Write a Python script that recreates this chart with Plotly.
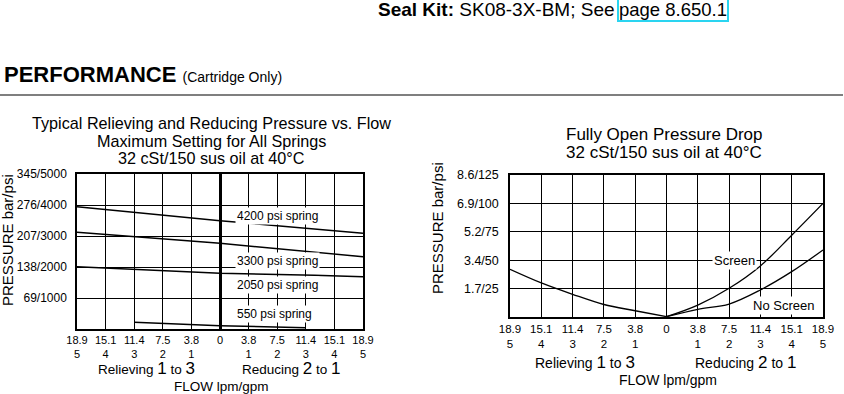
import plotly.graph_objects as go

W, H = 844, 394
FONT = "Liberation Sans, Arial, Helvetica, sans-serif"

# ---------------- data ----------------
gpm_ticks = [-5, -4, -3, -2, -1, 0, 1, 2, 3, 4, 5]
x_ticktext = ["18.9<br>5", "15.1<br>4", "11.4<br>3", "7.5<br>2", "3.8<br>1", "0",
              "3.8<br>1", "7.5<br>2", "11.4<br>3", "15.1<br>4", "18.9<br>5"]

left_y_vals = [1000, 2000, 3000, 4000, 5000]
left_y_text = ["69/1000", "138/2000", "207/3000", "276/4000", "345/5000"]

spring_4200_x = [-5, 0, 5]
spring_4200_p = [3945, 3494, 3087]
spring_3300_x = [-5, 0, 5]
spring_3300_p = [3119, 2763, 2333]
spring_2050_x = [-5, 0, 3.3, 5]
spring_2050_p = [2010, 1796, 1731, 1688]
spring_550_x = [-3, 0, 3]
spring_550_p = [215, 108, 43]

spring_labels = ["4200 psi spring", "3300 psi spring", "2050 psi spring", "550 psi spring"]
spring_label_x = [2.0, 2.0, 2.0, 1.9]
spring_label_p = [3645, 2203, 1419, 474]

right_y_vals = [25, 50, 75, 100, 125]
right_y_text = ["1.7/25", "3.4/50", "5.2/75", "6.9/100", "8.6/125"]

relieve_x = [-5, -4, -3, -2, -1, 0]
relieve_p = [42, 30, 20, 11, 5.5, 0.3]
reduce_x = [0, 1, 2, 3, 4, 5]
screen_p = [0.3, 10.5, 25.3, 45, 72, 100]
noscreen_p = [0.3, 6.8, 11.4, 23.8, 39.9, 59]

drop_labels = ["Screen", "No Screen"]
drop_label_x = [2.18, 3.75]
drop_label_p = [50, 9.7]


def px(x):
    return x / W


def py(y):
    return 1 - y / H


fig = go.Figure()

line_style = dict(color="black", width=1.5)
for xs, ps in [(spring_4200_x, spring_4200_p), (spring_3300_x, spring_3300_p),
               (spring_2050_x, spring_2050_p), (spring_550_x, spring_550_p)]:
    fig.add_trace(go.Scatter(x=xs, y=ps, mode="lines", line=line_style,
                             xaxis="x", yaxis="y", showlegend=False, hoverinfo="skip"))

for xs, ps in [(relieve_x, relieve_p), (reduce_x, screen_p), (reduce_x, noscreen_p)]:
    fig.add_trace(go.Scatter(x=xs, y=ps, mode="lines", line=dict(color="black", width=1.3, shape="spline"),
                             xaxis="x2", yaxis="y2", showlegend=False, hoverinfo="skip"))

common_axis = dict(showgrid=True, gridcolor="black", gridwidth=1, showline=True, mirror=True,
                   linecolor="black", linewidth=1.5, ticks="", color="black", automargin=False)

fig.update_layout(
    template="none",
    width=W, height=H, margin=dict(l=0, r=0, t=0, b=0, pad=0, autoexpand=False),
    paper_bgcolor="white", plot_bgcolor="white",
    font=dict(family=FONT, color="black"),
    xaxis=dict(domain=[px(77), px(363)], range=[-5, 5], tickvals=gpm_ticks, ticktext=x_ticktext,
               zeroline=True, zerolinecolor="black", zerolinewidth=3,
               tickfont=dict(size=11), anchor="y", **common_axis),
    yaxis=dict(domain=[py(329), py(174)], range=[0, 5000], tickvals=left_y_vals, ticktext=left_y_text,
               zeroline=False, tickfont=dict(size=12), ticklabelstandoff=6, anchor="x", **common_axis),
    xaxis2=dict(domain=[px(510), px(823)], range=[-5, 5], tickvals=gpm_ticks, ticktext=x_ticktext,
                zeroline=False, tickfont=dict(size=11.5), anchor="y2", **common_axis),
    yaxis2=dict(domain=[py(317), py(175)], range=[0, 125], tickvals=right_y_vals, ticktext=right_y_text,
                zeroline=False, tickfont=dict(size=12.5), ticklabelstandoff=7, anchor="x2", **common_axis),
)

ann = []
# spring labels
for t, x, y in zip(spring_labels, spring_label_x, spring_label_p):
    ann.append(dict(text=t, x=x, y=y, xref="x", yref="y", showarrow=False, bgcolor="white",
                    font=dict(size=12), borderpad=1))
for t, x, y in zip(drop_labels, drop_label_x, drop_label_p):
    ann.append(dict(text=t, x=x, y=y, xref="x2", yref="y2", showarrow=False, bgcolor="white",
                    font=dict(size=13), borderpad=1))


def txt(text, x, y, size, xanchor="center", **kw):
    d = dict(text=text, x=px(x), y=py(y), xref="paper", yref="paper", showarrow=False,
             xanchor=xanchor, yanchor="middle", font=dict(size=size, color="black"))
    d.update(kw)
    return d


# header
ann.append(txt("<b>Seal Kit:</b> SK08-3X-BM; See", 617, 10, 19, xanchor="right"))
ann.append(txt("page 8.650.1", 617, 10, 18.5, xanchor="left", bordercolor="#2ad4f0", borderwidth=2, borderpad=0))
ann.append(txt("<b>PERFORMANCE</b> <span style='font-size:14px'>(Cartridge Only)</span>", 2, 74, 22, xanchor="left"))

# left chart titles
ann.append(txt("Typical Relieving and Reducing Pressure vs. Flow", 211, 123, 16.2))
ann.append(txt("Maximum Setting for All Springs", 211, 141, 16.2))
ann.append(txt("32 cSt/150 sus oil at 40°C", 211, 158, 16.2))
# right chart titles
ann.append(txt("Fully Open Pressure Drop", 664, 134, 17))
ann.append(txt("32 cSt/150 sus oil at 40°C", 664, 152, 17))

big = "<span style='font-size:17px'>%s</span>"
ann.append(txt("Relieving " + big % "1" + " to " + big % "3", 146, 368, 13.5))
ann.append(txt("Reducing " + big % "2" + " to " + big % "1", 291, 368, 13.5))
ann.append(txt("FLOW lpm/gpm", 221, 386, 13.5))
ann.append(txt("Relieving " + big % "1" + " to " + big % "3", 585, 362, 14))
ann.append(txt("Reducing " + big % "2" + " to " + big % "1", 745, 362, 14))
ann.append(txt("FLOW lpm/gpm", 668, 380, 14))

ann.append(txt("PRESSURE bar/psi", 7, 240, 15, textangle=-90))
ann.append(txt("PRESSURE bar/psi", 438, 228, 15, textangle=-90))

fig.update_layout(annotations=ann)

fig.add_shape(type="line", xref="paper", yref="paper", x0=0, x1=px(843), y0=py(95), y1=py(95),
              line=dict(color="black", width=1.2))

fig.write_html("out.html", config={"displayModeBar": False},
               post_script="document.body.style.margin='0px';")
